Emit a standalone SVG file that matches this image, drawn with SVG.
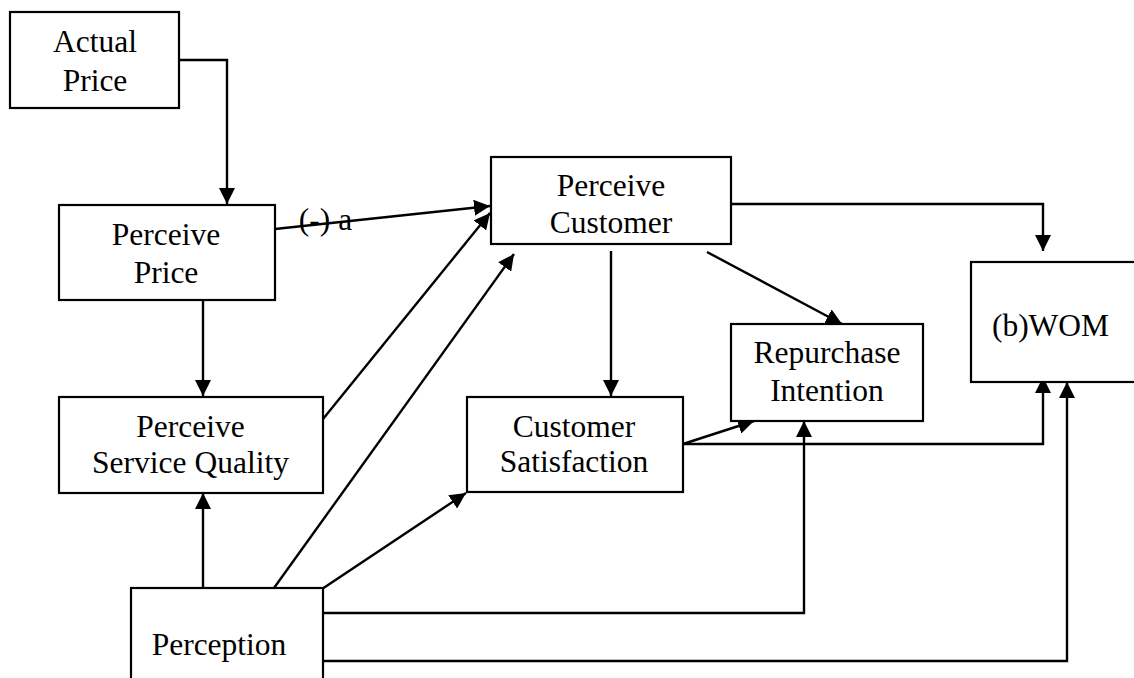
<svg xmlns="http://www.w3.org/2000/svg" width="1134" height="678" viewBox="0 0 1134 678">
<style>
.box{fill:#fff;stroke:#000;stroke-width:2.2}
.t{font-family:"Liberation Serif","Times New Roman",serif;font-size:31.5px;fill:#000;text-anchor:middle}
.c{fill:none;stroke:#000;stroke-width:2.4}
</style>
<defs>
<marker id="ah" markerUnits="userSpaceOnUse" markerWidth="16" markerHeight="16" refX="14" refY="7" orient="auto" viewBox="0 0 14 14">
<path d="M0,0 L14,7 L0,14 z" fill="#000"/>
</marker>
</defs>
<rect width="1134" height="678" fill="#fff"/>
<g id="connectors">
<path class="c" d="M179,60 H227 V204" marker-end="url(#ah)"/>
<line class="c" x1="275" y1="229" x2="490" y2="206" marker-end="url(#ah)"/>
<line class="c" x1="203" y1="300" x2="203" y2="396" marker-end="url(#ah)"/>
<line class="c" x1="323" y1="419" x2="490" y2="213" marker-end="url(#ah)"/>
<line class="c" x1="274" y1="588" x2="514" y2="254" marker-end="url(#ah)"/>
<line class="c" x1="203" y1="588" x2="203" y2="493" marker-end="url(#ah)"/>
<line class="c" x1="611" y1="251" x2="611" y2="396" marker-end="url(#ah)"/>
<line class="c" x1="707" y1="252" x2="842" y2="324" marker-end="url(#ah)"/>
<path class="c" d="M731,204 H1043 V251" marker-end="url(#ah)"/>
<line class="c" x1="683" y1="444" x2="754" y2="421" marker-end="url(#ah)"/>
<path class="c" d="M683,444 H1043 V377" marker-end="url(#ah)"/>
<line class="c" x1="322" y1="589" x2="466" y2="493" marker-end="url(#ah)"/>
<path class="c" d="M322,613 H804 V421" marker-end="url(#ah)"/>
<path class="c" d="M322,661 H1067 V382" marker-end="url(#ah)"/>
</g>
<g id="actual-price">
<rect class="box" x="10" y="12" width="169" height="96"/>
<text class="t" x="95" y="52">Actual</text>
<text class="t" x="95" y="90.5">Price</text>
</g>
<g id="perceive-price">
<rect class="box" x="59" y="205" width="216" height="95"/>
<text class="t" x="166" y="245">Perceive</text>
<text class="t" x="166" y="282.5">Price</text>
</g>
<g id="perceive-service-quality">
<rect class="box" x="59" y="397" width="264" height="96"/>
<text class="t" x="190.5" y="436.5">Perceive</text>
<text class="t" x="190.5" y="473">Service Quality</text>
</g>
<g id="perception">
<rect class="box" x="131" y="588" width="192" height="110"/>
<text class="t" x="219" y="655">Perception</text>
</g>
<g id="perceive-customer">
<rect class="box" x="491" y="157" width="240" height="87"/>
<text class="t" x="611" y="195.5">Perceive</text>
<text class="t" x="611" y="232.5">Customer</text>
</g>
<g id="customer-satisfaction">
<rect class="box" x="467" y="397" width="216" height="95"/>
<text class="t" x="574" y="436.5">Customer</text>
<text class="t" x="574" y="471.5">Satisfaction</text>
</g>
<g id="repurchase-intention">
<rect class="box" x="731" y="324" width="192" height="97"/>
<text class="t" x="827" y="363">Repurchase</text>
<text class="t" x="827" y="400.5">Intention</text>
</g>
<g id="wom">
<rect class="box" x="971" y="262" width="180" height="120"/>
<text class="t" x="1050.5" y="335.5">(b)WOM</text>
</g>
<g id="label-a">
<text class="t" x="325.5" y="230">(-) a</text>
</g>
</svg>
